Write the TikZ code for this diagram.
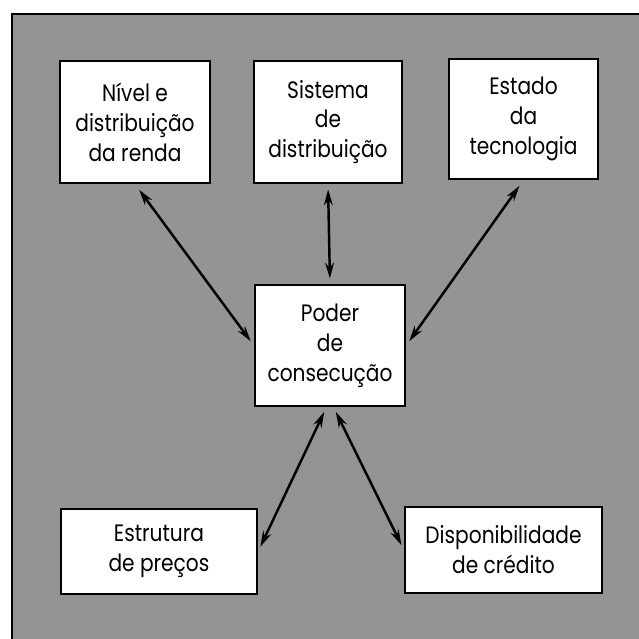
\documentclass[tikz,border=0pt]{standalone}
\usepackage{fontspec}
\setmainfont[FakeStretch=0.85]{Poppins}
\usetikzlibrary{arrows.meta}
\begin{document}
\begin{tikzpicture}[x=0.02cm, y=-0.02cm,
  caixa/.style={draw, line width=1.3pt, fill=white, align=center, inner sep=0pt,
    font=\fontsize{13.5}{17}\selectfont},
  seta/.style={{Stealth[length=9pt,width=5pt]}-{Stealth[length=9pt,width=5pt]}, line width=1.4pt}]
%
% fundo cinza
\useasboundingbox (0,0) rectangle (639,639);
\fill[white] (0,0) rectangle (639,639);
\draw[line width=1.2pt, fill=black!42] (12,14) rectangle (645,645);

%% caixas de cima
\node[caixa, minimum width=3cm, minimum height=2.44cm] (renda) at (135,122) {Nível e\\distribuição\\da renda};
\node[caixa, minimum width=2.96cm, minimum height=2.44cm] (sistema) at (328,122) {Sistema\\de\\distribuição};
\node[caixa, minimum width=2.98cm, minimum height=2.4cm] (tecno) at (523.5,119) {Estado\\da\\tecnologia};
%% caixa do meio
\node[caixa, minimum width=3cm, minimum height=2.42cm] (poder) at (330,345.5) {Poder\\de\\consecução};
%% caixas de baixo
\node[caixa, minimum width=3.92cm, minimum height=1.7cm] (precos) at (159,551.5) {Estrutura\\de preços};
\node[caixa, minimum width=3.94cm, minimum height=1.72cm] (credito) at (503.5,550) {Disponibilidade\\de crédito};

%% setas
\draw[seta, shorten <=4pt, shorten >=3pt] (renda.south) -- (poder.west);
\draw[seta, shorten <=3pt, shorten >=3pt] (sistema.south) -- (poder.north);
\draw[seta, shorten <=4pt, shorten >=3pt] (tecno.south) -- (poder.east);
\draw[seta, shorten <=3pt, shorten >=3pt] ([xshift=-2pt]poder.south) -- (precos.east);
\draw[seta, shorten <=3pt, shorten >=3pt] ([xshift=2pt]poder.south) -- (credito.west);
\end{tikzpicture}
\end{document}
